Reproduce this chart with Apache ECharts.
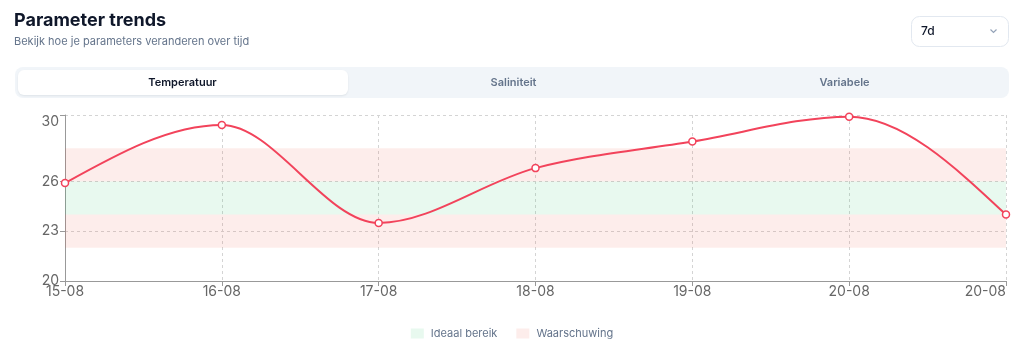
<!DOCTYPE html>
<html>
<head>
<meta charset="utf-8">
<title>Parameter trends</title>
<script src="https://cdn.jsdelivr.net/npm/echarts@6/dist/echarts.min.js"></script>
<style>
  html, body { margin: 0; padding: 0; background: #fff; }
  #trend { width: 1024px; height: 351px; }
</style>
</head>
<body>
<div id="trend"></div>
<script>
// data
var days = ['15-08', '16-08', '17-08', '18-08', '19-08', '20-08', '20-08'];
var temperatuur = [25.9, 29.4, 23.5, 26.8, 28.4, 29.9, 24.0];
var yTicks = [20, 23, 26, 30];
var idealBand = [24, 26];
var warnLow = [22, 24];
var warnHigh = [26, 28];
var tabs = ['Temperatuur', 'Saliniteit', 'Variabele'];

var lineColor = '#f2435b';
var font = 'Inter, "Noto Sans", sans-serif';

var myChart = echarts.init(document.getElementById('trend'));

// monotone-x tangents (same as the d3 "monotone" curve), in pixel space
function monoTangents(pts) {
    var n = pts.length, t = [];
    for (var i = 0; i < n; i++) {
        if (i === 0 || i === n - 1) { t.push(null); continue; }
        var h0 = pts[i][0] - pts[i - 1][0], h1 = pts[i + 1][0] - pts[i][0];
        var s0 = (pts[i][1] - pts[i - 1][1]) / h0, s1 = (pts[i + 1][1] - pts[i][1]) / h1;
        var p = (s0 * h1 + s1 * h0) / (h0 + h1);
        t.push((Math.sign(s0) + Math.sign(s1)) * Math.min(Math.abs(s0), Math.abs(s1), 0.5 * Math.abs(p)) || 0);
    }
    if (n > 2) {
        var h = pts[1][0] - pts[0][0];
        t[0] = (3 * (pts[1][1] - pts[0][1]) / h - t[1]) / 2;
        h = pts[n - 1][0] - pts[n - 2][0];
        t[n - 1] = (3 * (pts[n - 1][1] - pts[n - 2][1]) / h - t[n - 2]) / 2;
    }
    return t;
}

function renderCurve(params, api) {
    var i = params.dataIndex;
    if (i >= temperatuur.length - 1) return;
    var pts = temperatuur.map(function (v, k) { return api.coord([k, v]); });
    var t = monoTangents(pts);
    var a = pts[i], b = pts[i + 1], dx = (b[0] - a[0]) / 3;
    return {
        type: 'bezierCurve',
        shape: {
            x1: a[0], y1: a[1], x2: b[0], y2: b[1],
            cpx1: a[0] + dx, cpy1: a[1] + dx * t[i],
            cpx2: b[0] - dx, cpy2: b[1] - dx * t[i + 1]
        },
        style: { stroke: lineColor, lineWidth: 2, fill: null, lineCap: 'round' }
    };
}

// tab bar
var tabW = 331;
var tabGraphics = [
    { type: 'rect', shape: { x: 15, y: 67, width: 994, height: 31, r: 8 }, style: { fill: '#f1f5f9' } },
    { type: 'rect', shape: { x: 18, y: 70, width: 330, height: 25, r: 6 },
      style: { fill: '#fff', shadowColor: 'rgba(15,23,42,0.08)', shadowBlur: 2, shadowOffsetY: 1 } }
];
tabs.forEach(function (t, i) {
    tabGraphics.push({
        type: 'text',
        x: 15 + tabW * i + tabW / 2 + 2,
        y: 82.5,
        style: {
            text: t,
            font: '600 11px ' + font,
            fill: i === 0 ? '#0f172a' : '#64748b',
            align: 'center',
            verticalAlign: 'middle'
        }
    });
});

option = {
    backgroundColor: '#fff',
    textStyle: { fontFamily: font },
    graphic: [
        { type: 'text', x: 14, y: 12, style: { text: 'Parameter trends', font: '700 18px ' + font, fill: '#0f172a' } },
        { type: 'text', x: 14, y: 36, style: { text: 'Bekijk hoe je parameters veranderen over tijd', font: '11px ' + font, fill: '#64748b' } },
        { type: 'rect', shape: { x: 911.5, y: 16.5, width: 97, height: 30, r: 8 }, style: { fill: '#fff', stroke: '#e2e8f0', lineWidth: 1 } },
        { type: 'text', x: 921, y: 31.5, style: { text: '7d', font: '500 12px ' + font, fill: '#0f172a', verticalAlign: 'middle' } },
        { type: 'polyline', shape: { points: [[990.5, 29.5], [993.5, 32.5], [996.5, 29.5]] }, style: { stroke: '#94a3b8', lineWidth: 1.2, fill: null } }
    ].concat(tabGraphics),
    legend: {
        data: ['Ideaal bereik', 'Waarschuwing'],
        left: 'center',
        top: 323,
        icon: 'rect',
        itemWidth: 13,
        itemHeight: 10,
        itemGap: 19,
        textStyle: { color: '#64748b', fontSize: 11, fontFamily: font, padding: [0, 0, 0, 2] }
    },
    grid: { left: 65, right: 18, top: 115, bottom: 70 },
    xAxis: {
        type: 'category',
        data: days,
        boundaryGap: false,
        axisLine: { lineStyle: { color: '#999' } },
        axisTick: { show: true, length: 5, lineStyle: { color: '#999' } },
        axisLabel: { color: '#666', fontSize: 14, margin: 4, interval: 0, alignMaxLabel: 'right' },
        splitLine: { show: true, lineStyle: { color: '#d4d4d4', type: [3, 3] } }
    },
    yAxis: {
        type: 'value',
        min: 20,
        max: 30,
        axisLine: { show: true, lineStyle: { color: '#999' } },
        axisTick: { show: true, length: 5, customValues: yTicks, lineStyle: { color: '#999' } },
        axisLabel: { color: '#666', fontSize: 14, margin: 6, customValues: yTicks, verticalAlignMaxLabel: 'top' },
        splitLine: { show: true, lineStyle: { color: '#d4d4d4', type: [3, 3] } }
    },
    series: [
        {
            name: 'Waarschuwing',
            type: 'line',
            data: [],
            z: 1,
            itemStyle: { color: 'rgba(240,80,60,0.1)' },
            markArea: {
                silent: true,
                itemStyle: { color: 'rgba(240,80,60,0.1)' },
                data: [
                    [{ yAxis: warnLow[0] }, { yAxis: warnLow[1] }],
                    [{ yAxis: warnHigh[0] }, { yAxis: warnHigh[1] }]
                ]
            }
        },
        {
            name: 'Ideaal bereik',
            type: 'line',
            data: [],
            z: 1,
            itemStyle: { color: 'rgba(34,197,94,0.1)' },
            markArea: {
                silent: true,
                itemStyle: { color: 'rgba(34,197,94,0.1)' },
                data: [
                    [{ yAxis: idealBand[0] }, { yAxis: idealBand[1] }]
                ]
            }
        },
        {
            // smooth curve through the points
            name: 'Temperatuur',
            type: 'custom',
            z: 3,
            silent: true,
            renderItem: renderCurve,
            data: temperatuur
        },
        {
            // the dots
            name: 'Temperatuur',
            type: 'line',
            data: temperatuur,
            z: 4,
            symbol: 'circle',
            symbolSize: 7,
            lineStyle: { width: 0, opacity: 0 },
            itemStyle: { color: '#fff', borderColor: lineColor, borderWidth: 1.5 }
        }
    ]
};

myChart.setOption(option);
window.onresize = myChart.resize;
</script>
</body>
</html>
